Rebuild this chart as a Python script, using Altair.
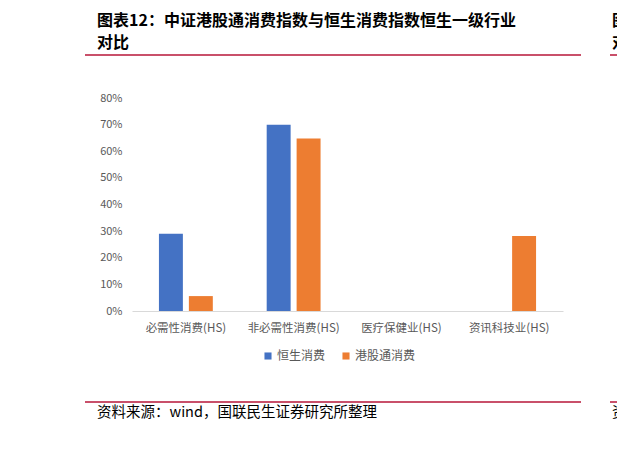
import altair as alt
import pandas as pd

categories = ["必需性消费(HS)", "非必需性消费(HS)", "医疗保健业(HS)", "资讯科技业(HS)"]
series = ["恒生消费", "港股通消费"]
hs_consumer = [0.29, 0.70, 0.0, 0.0]
sc_consumer = [0.056, 0.648, 0.0, 0.282]
y_ticks = [0, 0.1, 0.2, 0.3, 0.4, 0.5, 0.6, 0.7, 0.8]

title_line1 = "图表12：中证港股通消费指数与恒生消费指数恒生一级行业"
title_line2 = "对比"
source_note = "资料来源：wind，国联民生证券研究所整理"

rows = []
for cat, a, b in zip(categories, hs_consumer, sc_consumer):
    rows.append({"category": cat, "series": series[0], "value": a})
    rows.append({"category": cat, "series": series[1], "value": b})
df = pd.DataFrame(rows)

FONT = "Noto Sans CJK SC"
RED = "#C9506A"
GREY = "#595959"

bars = (
    alt.Chart(df)
    .mark_bar()
    .encode(
        alt.X(
            "category:N",
            sort=categories,
            scale=alt.Scale(paddingInner=0.5, paddingOuter=0.25),
            axis=alt.Axis(
                title=None,
                labelAngle=0,
                labelColor=GREY,
                labelFontSize=11.5,
                labelFont=FONT,
                labelPadding=11,
                ticks=False,
                domainColor="#d9d9d9",
            ),
        ),
        alt.XOffset("series:N", sort=series, scale=alt.Scale(paddingInner=0.2)),
        alt.Y(
            "value:Q",
            scale=alt.Scale(domain=[0, 0.8]),
            axis=alt.Axis(
                title=None,
                values=y_ticks,
                format=".0%",
                grid=False,
                ticks=False,
                domain=False,
                labelColor=GREY,
                labelFontSize=11,
                labelFont=FONT,
                labelPadding=10,
            ),
        ),
        alt.Color(
            "series:N",
            scale=alt.Scale(domain=series, range=["#4472C4", "#ED7D31"]),
            legend=alt.Legend(
                title=None,
                orient="none",
                legendX=130,
                legendY=252,
                direction="horizontal",
                symbolType="square",
                symbolSize=50,
                symbolStrokeWidth=0,
                labelFontSize=12,
                labelFont=FONT,
                labelColor=GREY,
                columnPadding=14,
                labelOffset=3,
            ),
        ),
    )
)

one = pd.DataFrame({"k": [0]})


def rule(x1, x2, y):
    return (
        alt.Chart(one)
        .mark_rule(color=RED, strokeWidth=2)
        .encode(x=alt.value(x1), x2=alt.value(x2), y=alt.value(y))
    )


def label(text, x, y, size, weight="normal", color="#000000"):
    return (
        alt.Chart(one)
        .mark_text(
            text=text,
            align="left",
            baseline="middle",
            font=FONT,
            fontSize=size,
            fontWeight=weight,
            color=color,
        )
        .encode(x=alt.value(x), y=alt.value(y))
    )


decor = [
    rule(-47, 449, -91),
    rule(-47, 449, -43),
    rule(-47, 449, 304),
    rule(478, 540, -91),
    rule(478, 540, -43),
    rule(478, 540, 304),
    label(title_line1, -35, -77.5, 16, "bold"),
    label(title_line2, -35, -55.5, 16, "bold"),
    label(source_note, -35, 315, 14.5),
    label("图", 480, -77.5, 16, "bold"),
    label("对", 480, -55.5, 16, "bold"),
    label("资", 480, 315, 14.5),
]

chart = (
    alt.layer(bars, *decor)
    .properties(
        width=431,
        height=213,
        autosize=alt.AutoSizeParams(type="none"),
        padding={"left": 124, "top": 90, "right": 54, "bottom": 130},
        background="white",
    )
    .configure_view(strokeWidth=0)
)

chart.save("out.html", embed_options={"renderer": "svg", "actions": False})
